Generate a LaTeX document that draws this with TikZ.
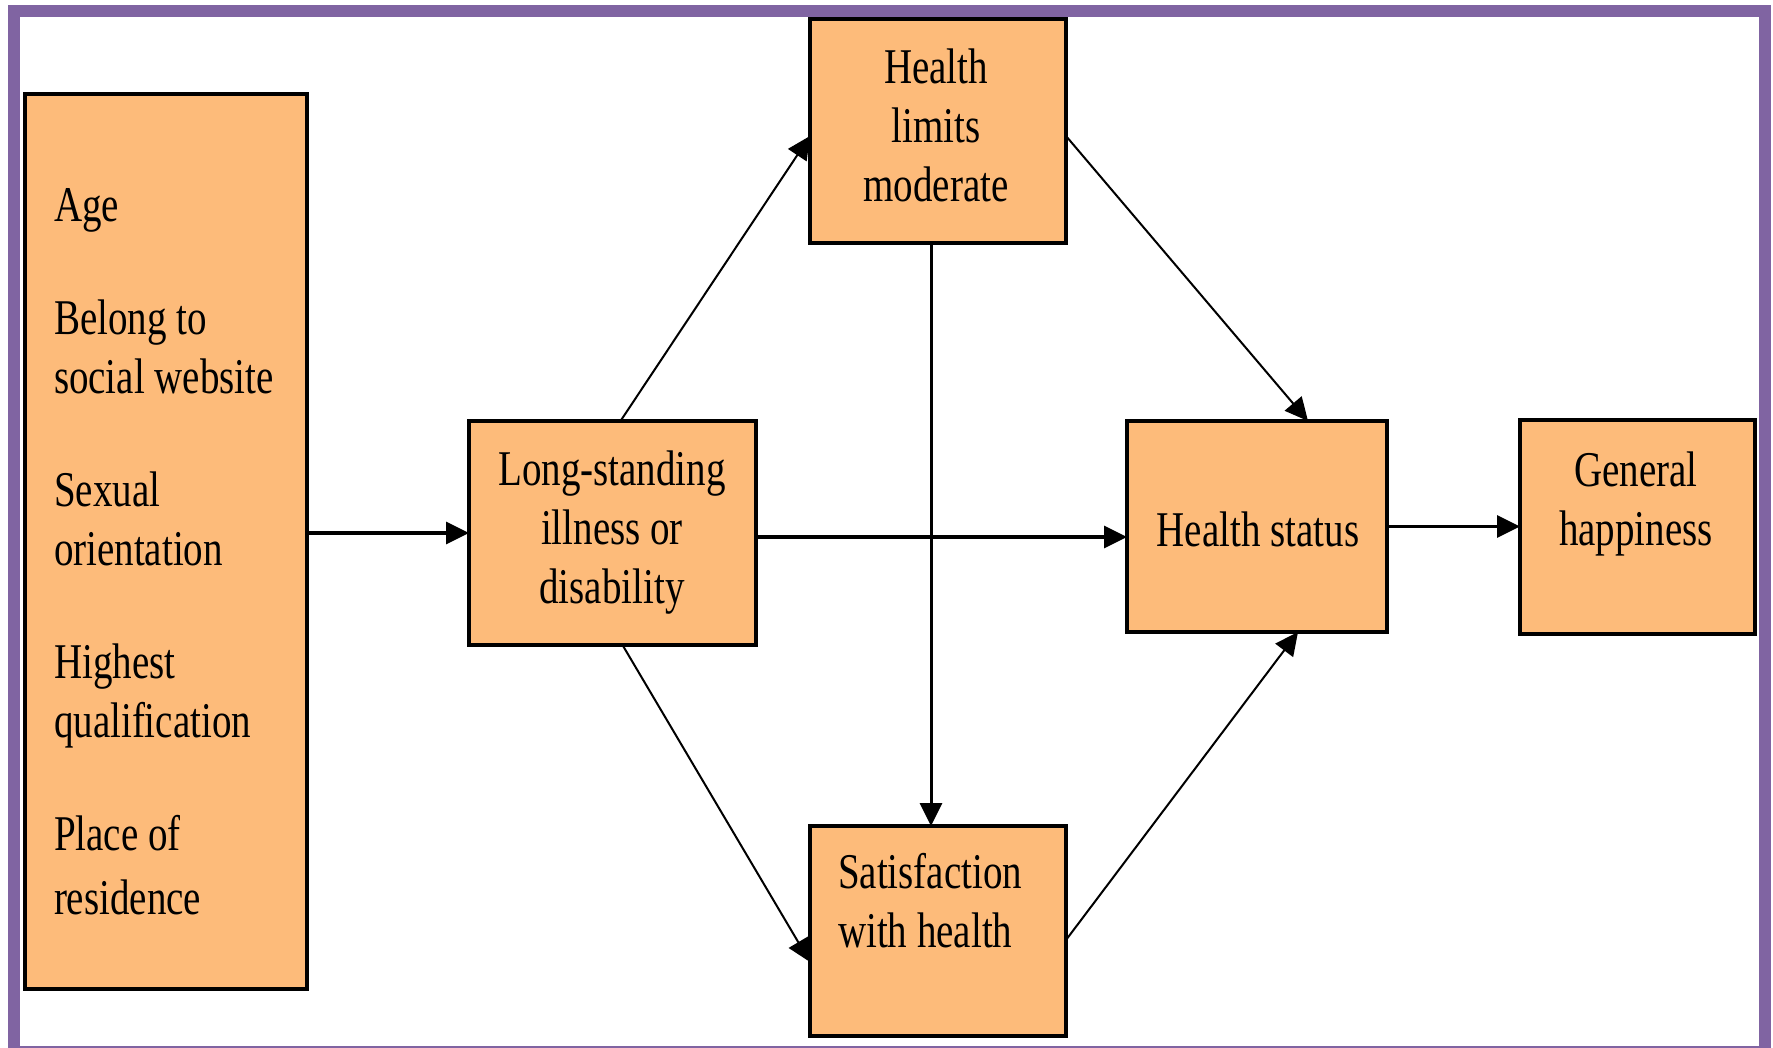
\documentclass[tikz,border=0pt]{standalone}
\usepackage{fontspec}
\setmainfont{Liberation Serif}[FakeStretch=0.78]
\usetikzlibrary{arrows.meta}
\definecolor{boxfill}{RGB}{253,187,122}
\definecolor{framepurple}{RGB}{128,100,162}
\tikzset{
  box/.style={draw=black, line width=4pt, fill=boxfill, rectangle, inner sep=0pt, outer sep=0pt},
  lbl/.style={inner sep=0pt, outer sep=0pt, font=\fontsize{50}{59}\selectfont},
  arr/.style={draw=black, -{Triangle[length=23pt,width=22pt]}},
  thick arr/.style={arr, line width=3.5pt},
  thin arr/.style={arr, line width=2pt},
}
\begin{document}
\begin{tikzpicture}[x=1pt,y=-1pt]
\useasboundingbox[fill=white] (0,0) rectangle (1773,1048);
\draw[framepurple, line width=12pt] (14,11) rectangle (1765,1052);

% boxes
\node[box, minimum width=282pt, minimum height=895pt] (lb) at (166,541.5) {};
\node[box, minimum width=287pt, minimum height=224pt] (ls) at (612.5,533) {};
\node[box, minimum width=256pt, minimum height=224pt] (hl) at (938,131) {};
\node[box, minimum width=256pt, minimum height=210pt] (sat) at (938,931) {};
\node[box, minimum width=260pt, minimum height=211pt] (hs) at (1257,526.5) {};
\node[box, minimum width=235pt, minimum height=214pt] (gh) at (1637.5,527) {};

% labels (base anchor = baseline of last line)
\node[lbl, anchor=base west, align=left] (lbtext) at (54,914)
  {Age\\[54pt]Belong to\\social website\\[54pt]Sexual\\orientation\\[54pt]Highest\\qualification\\[54pt]Place of\\[5pt]residence};
\node[lbl, anchor=base, align=center] (lstext) at (612,603) {Long-standing\\illness or\\disability};
\node[lbl, anchor=base, align=center] (hltext) at (936,202) {Health\\limits\\moderate};
\node[lbl, anchor=base west, align=left] (sattext) at (838,947) {Satisfaction\\with health};
\node[lbl, anchor=base] (hstext) at (1258,546) {Health status};
\node[lbl, anchor=base, align=center] (ghtext) at (1636,545) {General\\happiness};

% connectors
\draw[thick arr] (lb.east |- ls.west) -- (ls.west);
\draw[thick arr] ([yshift=-4pt]ls.east) -- ([yshift=-4pt]ls.east -| hs.west);
\draw[thick arr] (hs.east) -- (hs.east -| gh.west);
\draw[thin arr] ([xshift=8pt]ls.north) -- ([yshift=-5pt]hl.west);
\draw[thin arr] ([yshift=-5pt]hl.east) -- ([xshift=51pt]hs.north);
\draw[arr, line width=3pt] ([xshift=-7pt]hl.south) -- ([xshift=-7pt]sat.north);
\draw[thin arr] ([xshift=10pt]ls.south) -- ([yshift=-31pt]sat.west);
\draw[thin arr] ([yshift=-9pt]sat.east) -- ([xshift=41pt]hs.south);
\end{tikzpicture}
\end{document}
